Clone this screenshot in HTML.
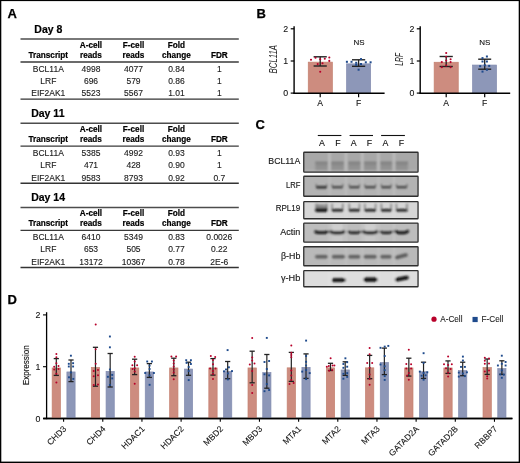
<!DOCTYPE html>
<html><head><meta charset="utf-8"><style>
html,body{margin:0;padding:0;background:#fff;}
svg{display:block;font-family:"Liberation Sans", sans-serif;will-change:transform;}
</style></head><body>
<svg width="520" height="463" viewBox="0 0 520 463">
<rect width="520" height="463" fill="#fff"/>
<text x="7.6" y="18.1" font-size="13" font-weight="bold" text-anchor="start" fill="#000"  stroke="#000" stroke-width="0.25">A</text>
<text x="256.4" y="17.9" font-size="13" font-weight="bold" text-anchor="start" fill="#000"  stroke="#000" stroke-width="0.25">B</text>
<text x="255.6" y="128.8" font-size="13" font-weight="bold" text-anchor="start" fill="#000"  stroke="#000" stroke-width="0.25">C</text>
<text x="7.4" y="304.2" font-size="13" font-weight="bold" text-anchor="start" fill="#000"  stroke="#000" stroke-width="0.25">D</text>
<text x="34.3" y="32.7" font-size="10.5" font-weight="bold" text-anchor="start" fill="#000"  stroke="#000" stroke-width="0.2">Day 8</text>
<line x1="20.5" y1="39.1" x2="238.8" y2="39.1" stroke="#4d4d4d" stroke-width="1.5"/>
<line x1="20.5" y1="62.0" x2="238.8" y2="62.0" stroke="#3a3a3a" stroke-width="1.3"/>
<line x1="20.5" y1="99.1" x2="238.8" y2="99.1" stroke="#333" stroke-width="1.4"/>
<text x="91.0" y="47.7" font-size="8.2" font-weight="bold" text-anchor="middle" fill="#000"  stroke="#000" stroke-width="0.2">A-cell</text>
<text x="133.5" y="47.7" font-size="8.2" font-weight="bold" text-anchor="middle" fill="#000"  stroke="#000" stroke-width="0.2">F-cell</text>
<text x="176.4" y="47.7" font-size="8.2" font-weight="bold" text-anchor="middle" fill="#000"  stroke="#000" stroke-width="0.2">Fold</text>
<text x="48.3" y="58.0" font-size="8.2" font-weight="bold" text-anchor="middle" fill="#000"  stroke="#000" stroke-width="0.2">Transcript</text>
<text x="91.0" y="58.0" font-size="8.2" font-weight="bold" text-anchor="middle" fill="#000"  stroke="#000" stroke-width="0.2">reads</text>
<text x="133.5" y="58.0" font-size="8.2" font-weight="bold" text-anchor="middle" fill="#000"  stroke="#000" stroke-width="0.2">reads</text>
<text x="176.4" y="58.0" font-size="8.2" font-weight="bold" text-anchor="middle" fill="#000"  stroke="#000" stroke-width="0.2">change</text>
<text x="219.3" y="58.0" font-size="8.2" font-weight="bold" text-anchor="middle" fill="#000"  stroke="#000" stroke-width="0.2">FDR</text>
<text transform="translate(48.3,71.5) scale(1.0,1.0)" font-size="8.5" font-weight="normal" text-anchor="middle" fill="#1a1a1a" stroke="#1a1a1a" stroke-width="0.12">BCL11A</text>
<text transform="translate(91.0,71.5) scale(1.0,1.0)" font-size="8.5" font-weight="normal" text-anchor="middle" fill="#1a1a1a" stroke="#1a1a1a" stroke-width="0.12">4998</text>
<text transform="translate(133.5,71.5) scale(1.0,1.0)" font-size="8.5" font-weight="normal" text-anchor="middle" fill="#1a1a1a" stroke="#1a1a1a" stroke-width="0.12">4077</text>
<text transform="translate(176.4,71.5) scale(1.0,1.0)" font-size="8.5" font-weight="normal" text-anchor="middle" fill="#1a1a1a" stroke="#1a1a1a" stroke-width="0.12">0.84</text>
<text transform="translate(219.3,71.5) scale(1.0,1.0)" font-size="8.5" font-weight="normal" text-anchor="middle" fill="#1a1a1a" stroke="#1a1a1a" stroke-width="0.12">1</text>
<text transform="translate(48.3,84.0) scale(1.0,1.0)" font-size="8.5" font-weight="normal" text-anchor="middle" fill="#1a1a1a" stroke="#1a1a1a" stroke-width="0.12">LRF</text>
<text transform="translate(91.0,84.0) scale(1.0,1.0)" font-size="8.5" font-weight="normal" text-anchor="middle" fill="#1a1a1a" stroke="#1a1a1a" stroke-width="0.12">696</text>
<text transform="translate(133.5,84.0) scale(1.0,1.0)" font-size="8.5" font-weight="normal" text-anchor="middle" fill="#1a1a1a" stroke="#1a1a1a" stroke-width="0.12">579</text>
<text transform="translate(176.4,84.0) scale(1.0,1.0)" font-size="8.5" font-weight="normal" text-anchor="middle" fill="#1a1a1a" stroke="#1a1a1a" stroke-width="0.12">0.86</text>
<text transform="translate(219.3,84.0) scale(1.0,1.0)" font-size="8.5" font-weight="normal" text-anchor="middle" fill="#1a1a1a" stroke="#1a1a1a" stroke-width="0.12">1</text>
<text transform="translate(48.3,96.4) scale(1.0,1.0)" font-size="8.5" font-weight="normal" text-anchor="middle" fill="#1a1a1a" stroke="#1a1a1a" stroke-width="0.12">EIF2AK1</text>
<text transform="translate(91.0,96.4) scale(1.0,1.0)" font-size="8.5" font-weight="normal" text-anchor="middle" fill="#1a1a1a" stroke="#1a1a1a" stroke-width="0.12">5523</text>
<text transform="translate(133.5,96.4) scale(1.0,1.0)" font-size="8.5" font-weight="normal" text-anchor="middle" fill="#1a1a1a" stroke="#1a1a1a" stroke-width="0.12">5567</text>
<text transform="translate(176.4,96.4) scale(1.0,1.0)" font-size="8.5" font-weight="normal" text-anchor="middle" fill="#1a1a1a" stroke="#1a1a1a" stroke-width="0.12">1.01</text>
<text transform="translate(219.3,96.4) scale(1.0,1.0)" font-size="8.5" font-weight="normal" text-anchor="middle" fill="#1a1a1a" stroke="#1a1a1a" stroke-width="0.12">1</text>
<text x="31.2" y="116.9" font-size="10.5" font-weight="bold" text-anchor="start" fill="#000"  stroke="#000" stroke-width="0.2">Day 11</text>
<line x1="20.5" y1="123.30000000000001" x2="238.8" y2="123.30000000000001" stroke="#4d4d4d" stroke-width="1.5"/>
<line x1="20.5" y1="146.2" x2="238.8" y2="146.2" stroke="#3a3a3a" stroke-width="1.3"/>
<line x1="20.5" y1="183.3" x2="238.8" y2="183.3" stroke="#333" stroke-width="1.4"/>
<text x="91.0" y="131.9" font-size="8.2" font-weight="bold" text-anchor="middle" fill="#000"  stroke="#000" stroke-width="0.2">A-cell</text>
<text x="133.5" y="131.9" font-size="8.2" font-weight="bold" text-anchor="middle" fill="#000"  stroke="#000" stroke-width="0.2">F-cell</text>
<text x="176.4" y="131.9" font-size="8.2" font-weight="bold" text-anchor="middle" fill="#000"  stroke="#000" stroke-width="0.2">Fold</text>
<text x="48.3" y="142.2" font-size="8.2" font-weight="bold" text-anchor="middle" fill="#000"  stroke="#000" stroke-width="0.2">Transcript</text>
<text x="91.0" y="142.2" font-size="8.2" font-weight="bold" text-anchor="middle" fill="#000"  stroke="#000" stroke-width="0.2">reads</text>
<text x="133.5" y="142.2" font-size="8.2" font-weight="bold" text-anchor="middle" fill="#000"  stroke="#000" stroke-width="0.2">reads</text>
<text x="176.4" y="142.2" font-size="8.2" font-weight="bold" text-anchor="middle" fill="#000"  stroke="#000" stroke-width="0.2">change</text>
<text x="219.3" y="142.2" font-size="8.2" font-weight="bold" text-anchor="middle" fill="#000"  stroke="#000" stroke-width="0.2">FDR</text>
<text transform="translate(48.3,155.7) scale(1.0,1.0)" font-size="8.5" font-weight="normal" text-anchor="middle" fill="#1a1a1a" stroke="#1a1a1a" stroke-width="0.12">BCL11A</text>
<text transform="translate(91.0,155.7) scale(1.0,1.0)" font-size="8.5" font-weight="normal" text-anchor="middle" fill="#1a1a1a" stroke="#1a1a1a" stroke-width="0.12">5385</text>
<text transform="translate(133.5,155.7) scale(1.0,1.0)" font-size="8.5" font-weight="normal" text-anchor="middle" fill="#1a1a1a" stroke="#1a1a1a" stroke-width="0.12">4992</text>
<text transform="translate(176.4,155.7) scale(1.0,1.0)" font-size="8.5" font-weight="normal" text-anchor="middle" fill="#1a1a1a" stroke="#1a1a1a" stroke-width="0.12">0.93</text>
<text transform="translate(219.3,155.7) scale(1.0,1.0)" font-size="8.5" font-weight="normal" text-anchor="middle" fill="#1a1a1a" stroke="#1a1a1a" stroke-width="0.12">1</text>
<text transform="translate(48.3,168.2) scale(1.0,1.0)" font-size="8.5" font-weight="normal" text-anchor="middle" fill="#1a1a1a" stroke="#1a1a1a" stroke-width="0.12">LRF</text>
<text transform="translate(91.0,168.2) scale(1.0,1.0)" font-size="8.5" font-weight="normal" text-anchor="middle" fill="#1a1a1a" stroke="#1a1a1a" stroke-width="0.12">471</text>
<text transform="translate(133.5,168.2) scale(1.0,1.0)" font-size="8.5" font-weight="normal" text-anchor="middle" fill="#1a1a1a" stroke="#1a1a1a" stroke-width="0.12">428</text>
<text transform="translate(176.4,168.2) scale(1.0,1.0)" font-size="8.5" font-weight="normal" text-anchor="middle" fill="#1a1a1a" stroke="#1a1a1a" stroke-width="0.12">0.90</text>
<text transform="translate(219.3,168.2) scale(1.0,1.0)" font-size="8.5" font-weight="normal" text-anchor="middle" fill="#1a1a1a" stroke="#1a1a1a" stroke-width="0.12">1</text>
<text transform="translate(48.3,180.60000000000002) scale(1.0,1.0)" font-size="8.5" font-weight="normal" text-anchor="middle" fill="#1a1a1a" stroke="#1a1a1a" stroke-width="0.12">EIF2AK1</text>
<text transform="translate(91.0,180.60000000000002) scale(1.0,1.0)" font-size="8.5" font-weight="normal" text-anchor="middle" fill="#1a1a1a" stroke="#1a1a1a" stroke-width="0.12">9583</text>
<text transform="translate(133.5,180.60000000000002) scale(1.0,1.0)" font-size="8.5" font-weight="normal" text-anchor="middle" fill="#1a1a1a" stroke="#1a1a1a" stroke-width="0.12">8793</text>
<text transform="translate(176.4,180.60000000000002) scale(1.0,1.0)" font-size="8.5" font-weight="normal" text-anchor="middle" fill="#1a1a1a" stroke="#1a1a1a" stroke-width="0.12">0.92</text>
<text transform="translate(219.3,180.60000000000002) scale(1.0,1.0)" font-size="8.5" font-weight="normal" text-anchor="middle" fill="#1a1a1a" stroke="#1a1a1a" stroke-width="0.12">0.7</text>
<text x="31.2" y="201.10000000000002" font-size="10.5" font-weight="bold" text-anchor="start" fill="#000"  stroke="#000" stroke-width="0.2">Day 14</text>
<line x1="20.5" y1="207.5" x2="238.8" y2="207.5" stroke="#4d4d4d" stroke-width="1.5"/>
<line x1="20.5" y1="230.4" x2="238.8" y2="230.4" stroke="#3a3a3a" stroke-width="1.3"/>
<line x1="20.5" y1="267.5" x2="238.8" y2="267.5" stroke="#333" stroke-width="1.4"/>
<text x="91.0" y="216.10000000000002" font-size="8.2" font-weight="bold" text-anchor="middle" fill="#000"  stroke="#000" stroke-width="0.2">A-cell</text>
<text x="133.5" y="216.10000000000002" font-size="8.2" font-weight="bold" text-anchor="middle" fill="#000"  stroke="#000" stroke-width="0.2">F-cell</text>
<text x="176.4" y="216.10000000000002" font-size="8.2" font-weight="bold" text-anchor="middle" fill="#000"  stroke="#000" stroke-width="0.2">Fold</text>
<text x="48.3" y="226.4" font-size="8.2" font-weight="bold" text-anchor="middle" fill="#000"  stroke="#000" stroke-width="0.2">Transcript</text>
<text x="91.0" y="226.4" font-size="8.2" font-weight="bold" text-anchor="middle" fill="#000"  stroke="#000" stroke-width="0.2">reads</text>
<text x="133.5" y="226.4" font-size="8.2" font-weight="bold" text-anchor="middle" fill="#000"  stroke="#000" stroke-width="0.2">reads</text>
<text x="176.4" y="226.4" font-size="8.2" font-weight="bold" text-anchor="middle" fill="#000"  stroke="#000" stroke-width="0.2">change</text>
<text x="219.3" y="226.4" font-size="8.2" font-weight="bold" text-anchor="middle" fill="#000"  stroke="#000" stroke-width="0.2">FDR</text>
<text transform="translate(48.3,239.9) scale(1.0,1.0)" font-size="8.5" font-weight="normal" text-anchor="middle" fill="#1a1a1a" stroke="#1a1a1a" stroke-width="0.12">BCL11A</text>
<text transform="translate(91.0,239.9) scale(1.0,1.0)" font-size="8.5" font-weight="normal" text-anchor="middle" fill="#1a1a1a" stroke="#1a1a1a" stroke-width="0.12">6410</text>
<text transform="translate(133.5,239.9) scale(1.0,1.0)" font-size="8.5" font-weight="normal" text-anchor="middle" fill="#1a1a1a" stroke="#1a1a1a" stroke-width="0.12">5349</text>
<text transform="translate(176.4,239.9) scale(1.0,1.0)" font-size="8.5" font-weight="normal" text-anchor="middle" fill="#1a1a1a" stroke="#1a1a1a" stroke-width="0.12">0.83</text>
<text transform="translate(219.3,239.9) scale(1.0,1.0)" font-size="8.5" font-weight="normal" text-anchor="middle" fill="#1a1a1a" stroke="#1a1a1a" stroke-width="0.12">0.0026</text>
<text transform="translate(48.3,252.4) scale(1.0,1.0)" font-size="8.5" font-weight="normal" text-anchor="middle" fill="#1a1a1a" stroke="#1a1a1a" stroke-width="0.12">LRF</text>
<text transform="translate(91.0,252.4) scale(1.0,1.0)" font-size="8.5" font-weight="normal" text-anchor="middle" fill="#1a1a1a" stroke="#1a1a1a" stroke-width="0.12">653</text>
<text transform="translate(133.5,252.4) scale(1.0,1.0)" font-size="8.5" font-weight="normal" text-anchor="middle" fill="#1a1a1a" stroke="#1a1a1a" stroke-width="0.12">505</text>
<text transform="translate(176.4,252.4) scale(1.0,1.0)" font-size="8.5" font-weight="normal" text-anchor="middle" fill="#1a1a1a" stroke="#1a1a1a" stroke-width="0.12">0.77</text>
<text transform="translate(219.3,252.4) scale(1.0,1.0)" font-size="8.5" font-weight="normal" text-anchor="middle" fill="#1a1a1a" stroke="#1a1a1a" stroke-width="0.12">0.22</text>
<text transform="translate(48.3,264.8) scale(1.0,1.0)" font-size="8.5" font-weight="normal" text-anchor="middle" fill="#1a1a1a" stroke="#1a1a1a" stroke-width="0.12">EIF2AK1</text>
<text transform="translate(91.0,264.8) scale(1.0,1.0)" font-size="8.5" font-weight="normal" text-anchor="middle" fill="#1a1a1a" stroke="#1a1a1a" stroke-width="0.12">13172</text>
<text transform="translate(133.5,264.8) scale(1.0,1.0)" font-size="8.5" font-weight="normal" text-anchor="middle" fill="#1a1a1a" stroke="#1a1a1a" stroke-width="0.12">10367</text>
<text transform="translate(176.4,264.8) scale(1.0,1.0)" font-size="8.5" font-weight="normal" text-anchor="middle" fill="#1a1a1a" stroke="#1a1a1a" stroke-width="0.12">0.78</text>
<text transform="translate(219.3,264.8) scale(1.0,1.0)" font-size="8.5" font-weight="normal" text-anchor="middle" fill="#1a1a1a" stroke="#1a1a1a" stroke-width="0.12">2E-6</text>
<rect x="308.25" y="62.15" width="24.100000000000012" height="31.15" fill="#cd8c7f" stroke="#c4806f" stroke-width="0.7"/>
<rect x="346.55" y="63.85" width="24.100000000000012" height="29.449999999999996" fill="#8d97b8" stroke="#838cb0" stroke-width="0.7"/>
<line x1="294.1" y1="26.2" x2="294.1" y2="93.8" stroke="#000" stroke-width="1.4"/>
<line x1="293.40000000000003" y1="93.3" x2="384.6" y2="93.3" stroke="#000" stroke-width="1.4"/>
<line x1="290.70000000000005" y1="28.8" x2="294.1" y2="28.8" stroke="#000" stroke-width="1.2"/>
<text x="288.20000000000005" y="31.8" font-size="8.8" font-weight="normal" text-anchor="end" fill="#111"  stroke="#111" stroke-width="0.1">2</text>
<line x1="290.70000000000005" y1="61.0" x2="294.1" y2="61.0" stroke="#000" stroke-width="1.2"/>
<text x="288.20000000000005" y="64.0" font-size="8.8" font-weight="normal" text-anchor="end" fill="#111"  stroke="#111" stroke-width="0.1">1</text>
<line x1="290.70000000000005" y1="93.1" x2="294.1" y2="93.1" stroke="#000" stroke-width="1.2"/>
<text x="288.20000000000005" y="96.1" font-size="8.8" font-weight="normal" text-anchor="end" fill="#111"  stroke="#111" stroke-width="0.1">0</text>
<line x1="320.2" y1="93.3" x2="320.2" y2="97.2" stroke="#000" stroke-width="1.2"/>
<text x="320.2" y="106.4" font-size="8.6" font-weight="normal" text-anchor="middle" fill="#111"  stroke="#111" stroke-width="0.1">A</text>
<line x1="358.6" y1="93.3" x2="358.6" y2="97.2" stroke="#000" stroke-width="1.2"/>
<text x="358.6" y="106.4" font-size="8.6" font-weight="normal" text-anchor="middle" fill="#111"  stroke="#111" stroke-width="0.1">F</text>
<line x1="320.2" y1="56.8" x2="320.2" y2="66.0" stroke="#222" stroke-width="1.3"/>
<line x1="313.59999999999997" y1="56.8" x2="326.8" y2="56.8" stroke="#222" stroke-width="1.4"/>
<line x1="313.59999999999997" y1="66.0" x2="326.8" y2="66.0" stroke="#222" stroke-width="1.4"/>
<line x1="358.6" y1="59.8" x2="358.6" y2="66.3" stroke="#222" stroke-width="1.3"/>
<line x1="352.0" y1="59.8" x2="365.20000000000005" y2="59.8" stroke="#222" stroke-width="1.4"/>
<line x1="352.0" y1="66.3" x2="365.20000000000005" y2="66.3" stroke="#222" stroke-width="1.4"/>
<circle cx="311" cy="59.8" r="1.05" fill="#b8002a"/>
<circle cx="315.5" cy="57.8" r="1.05" fill="#b8002a"/>
<circle cx="320.2" cy="59.2" r="1.05" fill="#b8002a"/>
<circle cx="324.8" cy="58.7" r="1.05" fill="#b8002a"/>
<circle cx="329.3" cy="57.5" r="1.05" fill="#b8002a"/>
<circle cx="329.3" cy="60.9" r="1.05" fill="#b8002a"/>
<circle cx="317.7" cy="64.1" r="1.05" fill="#b8002a"/>
<circle cx="322.5" cy="63.3" r="1.05" fill="#b8002a"/>
<circle cx="320.2" cy="71.8" r="1.05" fill="#b8002a"/>
<rect x="345.9" y="60.8" width="2" height="2" fill="#1e4a8c"/>
<rect x="350.5" y="60.8" width="2" height="2" fill="#1e4a8c"/>
<rect x="355.2" y="61.8" width="2" height="2" fill="#1e4a8c"/>
<rect x="360" y="58.1" width="2" height="2" fill="#1e4a8c"/>
<rect x="360" y="63" width="2" height="2" fill="#1e4a8c"/>
<rect x="364.8" y="61.3" width="2" height="2" fill="#1e4a8c"/>
<rect x="369.6" y="61.3" width="2" height="2" fill="#1e4a8c"/>
<rect x="357.6" y="68.7" width="2" height="2" fill="#1e4a8c"/>
<rect x="355.2" y="63.900000000000006" width="2" height="2" fill="#1e4a8c"/>
<text x="359.0" y="45.3" font-size="8" font-weight="normal" text-anchor="middle" fill="#111"  stroke="#111" stroke-width="0.1">NS</text>
<text transform="translate(277.2,59.2) rotate(-90) scale(0.78,1)" font-size="10" font-style="italic" text-anchor="middle" fill="#222">BCL11A</text>
<rect x="434.15000000000003" y="62.25" width="24.100000000000012" height="31.049999999999997" fill="#cd8c7f" stroke="#c4806f" stroke-width="0.7"/>
<rect x="472.55" y="65.05" width="23.99999999999999" height="28.249999999999993" fill="#8d97b8" stroke="#838cb0" stroke-width="0.7"/>
<line x1="420.2" y1="26.2" x2="420.2" y2="93.8" stroke="#000" stroke-width="1.4"/>
<line x1="419.5" y1="93.3" x2="510.2" y2="93.3" stroke="#000" stroke-width="1.4"/>
<line x1="416.8" y1="28.8" x2="420.2" y2="28.8" stroke="#000" stroke-width="1.2"/>
<text x="414.3" y="31.8" font-size="8.8" font-weight="normal" text-anchor="end" fill="#111"  stroke="#111" stroke-width="0.1">2</text>
<line x1="416.8" y1="61.0" x2="420.2" y2="61.0" stroke="#000" stroke-width="1.2"/>
<text x="414.3" y="64.0" font-size="8.8" font-weight="normal" text-anchor="end" fill="#111"  stroke="#111" stroke-width="0.1">1</text>
<line x1="416.8" y1="93.1" x2="420.2" y2="93.1" stroke="#000" stroke-width="1.2"/>
<text x="414.3" y="96.1" font-size="8.8" font-weight="normal" text-anchor="end" fill="#111"  stroke="#111" stroke-width="0.1">0</text>
<line x1="446.2" y1="93.3" x2="446.2" y2="97.2" stroke="#000" stroke-width="1.2"/>
<text x="446.2" y="106.4" font-size="8.6" font-weight="normal" text-anchor="middle" fill="#111"  stroke="#111" stroke-width="0.1">A</text>
<line x1="484.7" y1="93.3" x2="484.7" y2="97.2" stroke="#000" stroke-width="1.2"/>
<text x="484.7" y="106.4" font-size="8.6" font-weight="normal" text-anchor="middle" fill="#111"  stroke="#111" stroke-width="0.1">F</text>
<line x1="446.2" y1="56.5" x2="446.2" y2="66.5" stroke="#222" stroke-width="1.3"/>
<line x1="439.59999999999997" y1="56.5" x2="452.8" y2="56.5" stroke="#222" stroke-width="1.4"/>
<line x1="439.59999999999997" y1="66.5" x2="452.8" y2="66.5" stroke="#222" stroke-width="1.4"/>
<line x1="484.7" y1="59.2" x2="484.7" y2="69.2" stroke="#222" stroke-width="1.3"/>
<line x1="478.2" y1="59.2" x2="491.2" y2="59.2" stroke="#222" stroke-width="1.4"/>
<line x1="478.2" y1="69.2" x2="491.2" y2="69.2" stroke="#222" stroke-width="1.4"/>
<circle cx="446.2" cy="53" r="1.05" fill="#b8002a"/>
<circle cx="446.2" cy="56.7" r="1.05" fill="#b8002a"/>
<circle cx="441.8" cy="62.1" r="1.05" fill="#b8002a"/>
<circle cx="450.6" cy="59.2" r="1.05" fill="#b8002a"/>
<circle cx="450.6" cy="62.1" r="1.05" fill="#b8002a"/>
<circle cx="441.8" cy="67.2" r="1.05" fill="#b8002a"/>
<circle cx="446.2" cy="65.5" r="1.05" fill="#b8002a"/>
<circle cx="450.6" cy="67.2" r="1.05" fill="#b8002a"/>
<circle cx="446.2" cy="60.5" r="1.05" fill="#b8002a"/>
<rect x="481.5" y="57.1" width="2" height="2" fill="#1e4a8c"/>
<rect x="485.9" y="55.5" width="2" height="2" fill="#1e4a8c"/>
<rect x="481.5" y="60.5" width="2" height="2" fill="#1e4a8c"/>
<rect x="485.9" y="60.5" width="2" height="2" fill="#1e4a8c"/>
<rect x="479.2" y="65.2" width="2" height="2" fill="#1e4a8c"/>
<rect x="483.8" y="64.2" width="2" height="2" fill="#1e4a8c"/>
<rect x="488.2" y="64.9" width="2" height="2" fill="#1e4a8c"/>
<rect x="481.5" y="70.6" width="2" height="2" fill="#1e4a8c"/>
<rect x="485.9" y="68.8" width="2" height="2" fill="#1e4a8c"/>
<text x="484.7" y="45.3" font-size="8" font-weight="normal" text-anchor="middle" fill="#111"  stroke="#111" stroke-width="0.1">NS</text>
<text transform="translate(403.0,59.3) rotate(-90) scale(0.68,1)" font-size="10" font-style="italic" text-anchor="middle" fill="#222">LRF</text>
<line x1="317.8" y1="135.5" x2="341.4" y2="135.5" stroke="#111" stroke-width="1.1"/>
<line x1="349.6" y1="135.5" x2="373.0" y2="135.5" stroke="#111" stroke-width="1.1"/>
<line x1="381.1" y1="135.5" x2="404.9" y2="135.5" stroke="#111" stroke-width="1.1"/>
<text x="322.0" y="145.9" font-size="8.8" font-weight="normal" text-anchor="middle" fill="#111"  stroke="#111" stroke-width="0.12">A</text>
<text x="337.9" y="145.9" font-size="8.8" font-weight="normal" text-anchor="middle" fill="#111"  stroke="#111" stroke-width="0.12">F</text>
<text x="353.6" y="145.9" font-size="8.8" font-weight="normal" text-anchor="middle" fill="#111"  stroke="#111" stroke-width="0.12">A</text>
<text x="369.5" y="145.9" font-size="8.8" font-weight="normal" text-anchor="middle" fill="#111"  stroke="#111" stroke-width="0.12">F</text>
<text x="385.5" y="145.9" font-size="8.8" font-weight="normal" text-anchor="middle" fill="#111"  stroke="#111" stroke-width="0.12">A</text>
<text x="401.5" y="145.9" font-size="8.8" font-weight="normal" text-anchor="middle" fill="#111"  stroke="#111" stroke-width="0.12">F</text>
<defs><filter id="bl" x="-20%" y="-80%" width="140%" height="260%"><feGaussianBlur stdDeviation="0.8"/></filter><filter id="bl2" x="-20%" y="-80%" width="140%" height="260%"><feGaussianBlur stdDeviation="0.9"/></filter></defs>
<text x="300.3" y="164.39999999999998" font-size="8.8" font-weight="normal" text-anchor="end" fill="#1a1a1a"  textLength="32.0" lengthAdjust="spacingAndGlyphs" stroke="#1a1a1a" stroke-width="0.15">BCL11A</text>
<clipPath id="cp0"><rect x="304.0" y="152.5" width="113.80000000000001" height="19.400000000000006" rx="0.6"/></clipPath>
<rect x="303.75" y="152.25" width="114.30000000000001" height="19.900000000000006" rx="0.8" fill="#a8a8a8"/>
<g clip-path="url(#cp0)"><g filter="url(#bl)"><rect x="328.29999999999995" y="151.5" width="2.2" height="21.400000000000006" fill="#b4b4b4"/><rect x="344.9" y="151.5" width="2.2" height="21.400000000000006" fill="#b4b4b4"/><rect x="361.09999999999997" y="151.5" width="2.2" height="21.400000000000006" fill="#b4b4b4"/><rect x="377.29999999999995" y="151.5" width="2.2" height="21.400000000000006" fill="#b4b4b4"/><rect x="392.9" y="151.5" width="2.2" height="21.400000000000006" fill="#b4b4b4"/><rect x="315.3" y="161.7" width="12.599999999999966" height="9.5" fill="#959595"/><rect x="315.3" y="161.8" width="12.599999999999966" height="1.5" fill="#767676"/><rect x="315.8" y="164.0" width="11.599999999999966" height="2.5" fill="#8b8b8b"/><rect x="315.8" y="168.3" width="11.599999999999966" height="2.2" fill="#8e8e8e"/><rect x="330.8" y="161.7" width="13.099999999999966" height="9.5" fill="#959595"/><rect x="330.8" y="161.8" width="13.099999999999966" height="1.5" fill="#767676"/><rect x="331.3" y="164.0" width="12.099999999999966" height="2.5" fill="#8b8b8b"/><rect x="331.3" y="168.3" width="12.099999999999966" height="2.2" fill="#8e8e8e"/><rect x="348.1" y="161.7" width="12.599999999999966" height="9.5" fill="#959595"/><rect x="348.1" y="161.8" width="12.599999999999966" height="1.5" fill="#767676"/><rect x="348.6" y="164.0" width="11.599999999999966" height="2.5" fill="#8b8b8b"/><rect x="348.6" y="168.3" width="11.599999999999966" height="2.2" fill="#8e8e8e"/><rect x="363.6" y="161.7" width="13.199999999999989" height="9.5" fill="#959595"/><rect x="363.6" y="161.8" width="13.199999999999989" height="1.5" fill="#767676"/><rect x="364.1" y="164.0" width="12.199999999999989" height="2.5" fill="#8b8b8b"/><rect x="364.1" y="168.3" width="12.199999999999989" height="2.2" fill="#8e8e8e"/><rect x="380.2" y="161.7" width="12.199999999999989" height="9.5" fill="#959595"/><rect x="380.2" y="161.8" width="12.199999999999989" height="1.5" fill="#767676"/><rect x="380.7" y="164.0" width="11.199999999999989" height="2.5" fill="#8b8b8b"/><rect x="380.7" y="168.3" width="11.199999999999989" height="2.2" fill="#8e8e8e"/><rect x="395.2" y="161.7" width="12.800000000000011" height="9.5" fill="#959595"/><rect x="395.2" y="161.8" width="12.800000000000011" height="1.5" fill="#767676"/><rect x="395.7" y="164.0" width="11.800000000000011" height="2.5" fill="#8b8b8b"/><rect x="395.7" y="168.3" width="11.800000000000011" height="2.2" fill="#8e8e8e"/><rect x="328.09999999999997" y="151.5" width="2.6" height="21.400000000000006" fill="#bcbcbc"/><rect x="344.7" y="151.5" width="2.6" height="21.400000000000006" fill="#bcbcbc"/><rect x="360.9" y="151.5" width="2.6" height="21.400000000000006" fill="#bcbcbc"/><rect x="377.09999999999997" y="151.5" width="2.6" height="21.400000000000006" fill="#bcbcbc"/><rect x="392.7" y="151.5" width="2.6" height="21.400000000000006" fill="#bcbcbc"/><rect x="303.0" y="170.3" width="115.80000000000001" height="1.1" fill="#b8b8b8"/></g></g>
<rect x="303.75" y="152.25" width="114.30000000000001" height="19.900000000000006" rx="0.6" fill="none" stroke="#2e2e2e" stroke-width="1.3"/>
<text x="300.3" y="188.05" font-size="8.8" font-weight="normal" text-anchor="end" fill="#1a1a1a"  textLength="14.4" lengthAdjust="spacingAndGlyphs" stroke="#1a1a1a" stroke-width="0.15">LRF</text>
<clipPath id="cp1"><rect x="304.0" y="176.5" width="113.80000000000001" height="19.5" rx="0.6"/></clipPath>
<rect x="303.75" y="176.25" width="114.30000000000001" height="20.0" rx="0.8" fill="#b3b3b3"/>
<g clip-path="url(#cp1)"><g filter="url(#bl)"><rect x="328.29999999999995" y="175.5" width="2.2" height="21.5" fill="#bcbcbc"/><rect x="344.9" y="175.5" width="2.2" height="21.5" fill="#bcbcbc"/><rect x="361.09999999999997" y="175.5" width="2.2" height="21.5" fill="#bcbcbc"/><rect x="377.29999999999995" y="175.5" width="2.2" height="21.5" fill="#bcbcbc"/><rect x="392.9" y="175.5" width="2.2" height="21.5" fill="#bcbcbc"/><path d="M316.3,184.0 C316.3,187.2 317.0,187.2 318.8,187.2 L324.4,187.2 C326.2,187.2 326.9,187.2 326.9,184.0" fill="none" stroke="#6a6a6a" stroke-width="1.4"/><line x1="317.2" y1="187.2" x2="326.0" y2="187.2" stroke="#2a2a2a" stroke-width="2.4" stroke-linecap="round"/><path d="M331.8,184.0 C331.8,187.2 332.5,187.2 334.3,187.2 L340.4,187.2 C342.2,187.2 342.9,187.2 342.9,184.0" fill="none" stroke="#6a6a6a" stroke-width="1.4"/><line x1="332.7" y1="187.2" x2="342.0" y2="187.2" stroke="#383838" stroke-width="1.9" stroke-linecap="round"/><path d="M349.1,184.0 C349.1,187.2 349.8,187.2 351.6,187.2 L357.2,187.2 C359.0,187.2 359.7,187.2 359.7,184.0" fill="none" stroke="#6a6a6a" stroke-width="1.4"/><line x1="350.0" y1="187.2" x2="358.8" y2="187.2" stroke="#383838" stroke-width="1.9" stroke-linecap="round"/><path d="M364.6,184.0 C364.6,187.2 365.3,187.2 367.1,187.2 L373.3,187.2 C375.1,187.2 375.8,187.2 375.8,184.0" fill="none" stroke="#6a6a6a" stroke-width="1.4"/><line x1="365.5" y1="187.2" x2="374.90000000000003" y2="187.2" stroke="#383838" stroke-width="1.9" stroke-linecap="round"/><path d="M381.2,184.0 C381.2,187.2 381.9,187.2 383.7,187.2 L388.9,187.2 C390.7,187.2 391.4,187.2 391.4,184.0" fill="none" stroke="#6a6a6a" stroke-width="1.4"/><line x1="382.09999999999997" y1="187.2" x2="390.5" y2="187.2" stroke="#383838" stroke-width="1.9" stroke-linecap="round"/><path d="M396.2,184.0 C396.2,187.2 396.9,187.2 398.7,187.2 L404.5,187.2 C406.3,187.2 407.0,187.2 407.0,184.0" fill="none" stroke="#6a6a6a" stroke-width="1.4"/><line x1="397.09999999999997" y1="187.2" x2="406.1" y2="187.2" stroke="#383838" stroke-width="1.9" stroke-linecap="round"/></g></g>
<rect x="303.75" y="176.25" width="114.30000000000001" height="20.0" rx="0.6" fill="none" stroke="#2e2e2e" stroke-width="1.3"/>
<text x="300.3" y="211.25" font-size="8.8" font-weight="normal" text-anchor="end" fill="#1a1a1a"  textLength="24.6" lengthAdjust="spacingAndGlyphs" stroke="#1a1a1a" stroke-width="0.15">RPL19</text>
<clipPath id="cp2"><rect x="304.0" y="201.8" width="113.80000000000001" height="16.69999999999999" rx="0.6"/></clipPath>
<rect x="303.75" y="201.55" width="114.30000000000001" height="17.19999999999999" rx="0.8" fill="#d6d6d6"/>
<g clip-path="url(#cp2)"><g filter="url(#bl)"><rect x="328.29999999999995" y="200.8" width="2.2" height="18.69999999999999" fill="#dadada"/><rect x="344.9" y="200.8" width="2.2" height="18.69999999999999" fill="#dadada"/><rect x="361.09999999999997" y="200.8" width="2.2" height="18.69999999999999" fill="#dadada"/><rect x="377.29999999999995" y="200.8" width="2.2" height="18.69999999999999" fill="#dadada"/><rect x="392.9" y="200.8" width="2.2" height="18.69999999999999" fill="#dadada"/><path d="M315.7,204.0 L327.5,204.0 L327.5,210.3 L315.7,210.3 Z" fill="#9d9d9d"/><path d="M316.7,205.3 Q321.6,204.3 326.5,207.3 L326.5,208.8 L316.7,208.8 Z" fill="#8a8a8a"/><path d="M316.3,203.60000000000002 C316.3,210.20000000000002 316.9,210.20000000000002 318.7,210.20000000000002 L324.5,210.20000000000002 C326.3,210.20000000000002 326.9,210.20000000000002 326.9,203.60000000000002" fill="none" stroke="#7a7a7a" stroke-width="1.5"/><line x1="316.9" y1="210.20000000000002" x2="326.3" y2="210.20000000000002" stroke="#101010" stroke-width="3.4" stroke-linecap="round"/><line x1="316.7" y1="209.20000000000002" x2="326.5" y2="209.20000000000002" stroke="#1a1a1a" stroke-width="2.6" stroke-linecap="round"/><path d="M331.8,203.60000000000002 C331.8,210.20000000000002 332.4,210.20000000000002 334.2,210.20000000000002 L340.5,210.20000000000002 C342.3,210.20000000000002 342.9,210.20000000000002 342.9,203.60000000000002" fill="none" stroke="#7a7a7a" stroke-width="1.5"/><line x1="332.4" y1="210.20000000000002" x2="342.3" y2="210.20000000000002" stroke="#101010" stroke-width="2.6" stroke-linecap="round"/><path d="M349.1,203.60000000000002 C349.1,210.20000000000002 349.7,210.20000000000002 351.5,210.20000000000002 L357.3,210.20000000000002 C359.1,210.20000000000002 359.7,210.20000000000002 359.7,203.60000000000002" fill="none" stroke="#7a7a7a" stroke-width="1.5"/><line x1="349.7" y1="210.20000000000002" x2="359.1" y2="210.20000000000002" stroke="#101010" stroke-width="2.6" stroke-linecap="round"/><path d="M364.6,203.60000000000002 C364.6,210.20000000000002 365.2,210.20000000000002 367.0,210.20000000000002 L373.40000000000003,210.20000000000002 C375.20000000000005,210.20000000000002 375.8,210.20000000000002 375.8,203.60000000000002" fill="none" stroke="#7a7a7a" stroke-width="1.5"/><line x1="365.2" y1="210.20000000000002" x2="375.20000000000005" y2="210.20000000000002" stroke="#101010" stroke-width="2.6" stroke-linecap="round"/><path d="M381.2,203.60000000000002 C381.2,210.20000000000002 381.79999999999995,210.20000000000002 383.59999999999997,210.20000000000002 L389.0,210.20000000000002 C390.8,210.20000000000002 391.4,210.20000000000002 391.4,203.60000000000002" fill="none" stroke="#7a7a7a" stroke-width="1.5"/><line x1="381.79999999999995" y1="210.20000000000002" x2="390.8" y2="210.20000000000002" stroke="#101010" stroke-width="2.6" stroke-linecap="round"/><path d="M396.2,203.60000000000002 C396.2,210.20000000000002 396.79999999999995,210.20000000000002 398.59999999999997,210.20000000000002 L404.6,210.20000000000002 C406.40000000000003,210.20000000000002 407.0,210.20000000000002 407.0,203.60000000000002" fill="none" stroke="#7a7a7a" stroke-width="1.5"/><line x1="396.79999999999995" y1="210.20000000000002" x2="406.40000000000003" y2="210.20000000000002" stroke="#101010" stroke-width="2.6" stroke-linecap="round"/></g></g>
<rect x="303.75" y="201.55" width="114.30000000000001" height="17.19999999999999" rx="0.6" fill="none" stroke="#2e2e2e" stroke-width="1.3"/>
<text x="300.3" y="234.60000000000002" font-size="8.8" font-weight="normal" text-anchor="end" fill="#1a1a1a"  textLength="20.0" lengthAdjust="spacingAndGlyphs" stroke="#1a1a1a" stroke-width="0.15">Actin</text>
<clipPath id="cp3"><rect x="304.0" y="223.3" width="113.80000000000001" height="18.599999999999994" rx="0.6"/></clipPath>
<rect x="303.75" y="223.05" width="114.30000000000001" height="19.099999999999994" rx="0.8" fill="#bdbdbd"/>
<g clip-path="url(#cp3)"><g filter="url(#bl)"><rect x="328.29999999999995" y="222.3" width="2.2" height="20.599999999999994" fill="#c5c5c5"/><rect x="344.9" y="222.3" width="2.2" height="20.599999999999994" fill="#c5c5c5"/><rect x="361.09999999999997" y="222.3" width="2.2" height="20.599999999999994" fill="#c5c5c5"/><rect x="377.29999999999995" y="222.3" width="2.2" height="20.599999999999994" fill="#c5c5c5"/><rect x="392.9" y="222.3" width="2.2" height="20.599999999999994" fill="#c5c5c5"/><path d="M315.6,231.8 C316.40000000000003,232.70000000000002 317.20000000000005,232.70000000000002 319.1,232.70000000000002 L324.09999999999997,232.70000000000002 C325.99999999999994,232.70000000000002 326.79999999999995,232.70000000000002 327.59999999999997,231.8" fill="none" stroke="#101010" stroke-width="2.8" stroke-linecap="round" opacity="1"/><rect x="331.3" y="222.3" width="12.099999999999966" height="20.599999999999994" fill="#c8c8c8"/><rect x="332.3" y="224.3" width="10.099999999999966" height="6" fill="#cfcfcf"/><path d="M331.1,231.8 C331.90000000000003,232.70000000000002 332.70000000000005,232.70000000000002 334.6,232.70000000000002 L340.09999999999997,232.70000000000002 C341.99999999999994,232.70000000000002 342.79999999999995,232.70000000000002 343.59999999999997,231.8" fill="none" stroke="#101010" stroke-width="3.5" stroke-linecap="round" opacity="1"/><path d="M348.40000000000003,231.8 C349.20000000000005,232.70000000000002 350.00000000000006,232.70000000000002 351.90000000000003,232.70000000000002 L356.9,232.70000000000002 C358.79999999999995,232.70000000000002 359.59999999999997,232.70000000000002 360.4,231.8" fill="none" stroke="#101010" stroke-width="2.4" stroke-linecap="round" opacity="1"/><rect x="364.1" y="222.3" width="12.199999999999989" height="20.599999999999994" fill="#c8c8c8"/><rect x="365.1" y="224.3" width="10.199999999999989" height="6" fill="#cfcfcf"/><path d="M363.90000000000003,231.8 C364.70000000000005,232.70000000000002 365.50000000000006,232.70000000000002 367.40000000000003,232.70000000000002 L373.0,232.70000000000002 C374.9,232.70000000000002 375.7,232.70000000000002 376.5,231.8" fill="none" stroke="#101010" stroke-width="3.5" stroke-linecap="round" opacity="1"/><path d="M380.5,231.8 C381.3,232.70000000000002 382.1,232.70000000000002 384.0,232.70000000000002 L388.59999999999997,232.70000000000002 C390.49999999999994,232.70000000000002 391.29999999999995,232.70000000000002 392.09999999999997,231.8" fill="none" stroke="#101010" stroke-width="2.4" stroke-linecap="round" opacity="1"/><path d="M395.5,231.3 C396.3,232.70000000000002 397.1,232.70000000000002 399.0,232.70000000000002 L404.2,232.70000000000002 C406.09999999999997,232.70000000000002 406.9,232.70000000000002 407.7,231.3" fill="none" stroke="#101010" stroke-width="3.0" stroke-linecap="round" opacity="1"/></g></g>
<rect x="303.75" y="223.05" width="114.30000000000001" height="19.099999999999994" rx="0.6" fill="none" stroke="#2e2e2e" stroke-width="1.3"/>
<text x="300.3" y="258.85" font-size="8.8" font-weight="normal" text-anchor="end" fill="#1a1a1a"  textLength="19.3" lengthAdjust="spacingAndGlyphs" stroke="#1a1a1a" stroke-width="0.15">&#946;-Hb</text>
<clipPath id="cp4"><rect x="304.0" y="247.0" width="113.80000000000001" height="18.5" rx="0.6"/></clipPath>
<rect x="303.75" y="246.75" width="114.30000000000001" height="19.0" rx="0.8" fill="#b9b9b9"/>
<g clip-path="url(#cp4)"><g filter="url(#bl2)"><rect x="328.29999999999995" y="246.0" width="2.2" height="20.5" fill="#bfbfbf"/><rect x="344.9" y="246.0" width="2.2" height="20.5" fill="#bfbfbf"/><rect x="361.09999999999997" y="246.0" width="2.2" height="20.5" fill="#bfbfbf"/><rect x="377.29999999999995" y="246.0" width="2.2" height="20.5" fill="#bfbfbf"/><rect x="392.9" y="246.0" width="2.2" height="20.5" fill="#bfbfbf"/><line x1="316.8" y1="256.7" x2="326.2" y2="256.7" stroke="#5e5e5e" stroke-width="3.6" stroke-linecap="round"/><line x1="333.40000000000003" y1="256.7" x2="343.59999999999997" y2="256.7" stroke="#5e5e5e" stroke-width="3.6" stroke-linecap="round"/><line x1="349.8" y1="256.7" x2="358.8" y2="256.7" stroke="#5e5e5e" stroke-width="3.6" stroke-linecap="round"/><line x1="365.2" y1="256.7" x2="375.2" y2="256.7" stroke="#5e5e5e" stroke-width="3.6" stroke-linecap="round"/><line x1="381.8" y1="256.7" x2="390.0" y2="256.7" stroke="#5e5e5e" stroke-width="3.6" stroke-linecap="round"/><line x1="396.6" y1="257.5" x2="406.0" y2="255.1" stroke="#5a5a5a" stroke-width="3.6" stroke-linecap="round"/></g></g>
<rect x="303.75" y="246.75" width="114.30000000000001" height="19.0" rx="0.6" fill="none" stroke="#2e2e2e" stroke-width="1.3"/>
<text x="300.3" y="281.25" font-size="8.8" font-weight="normal" text-anchor="end" fill="#1a1a1a"  textLength="19.3" lengthAdjust="spacingAndGlyphs" stroke="#1a1a1a" stroke-width="0.15">&#947;-Hb</text>
<clipPath id="cp5"><rect x="304.0" y="270.8" width="113.80000000000001" height="15.699999999999989" rx="0.6"/></clipPath>
<rect x="303.75" y="270.55" width="114.30000000000001" height="16.19999999999999" rx="0.8" fill="#dddddd"/>
<g clip-path="url(#cp5)"><g filter="url(#bl)"><rect x="328.29999999999995" y="269.8" width="2.2" height="17.69999999999999" fill="#e0e0e0"/><rect x="344.9" y="269.8" width="2.2" height="17.69999999999999" fill="#e0e0e0"/><rect x="361.09999999999997" y="269.8" width="2.2" height="17.69999999999999" fill="#e0e0e0"/><rect x="377.29999999999995" y="269.8" width="2.2" height="17.69999999999999" fill="#e0e0e0"/><rect x="392.9" y="269.8" width="2.2" height="17.69999999999999" fill="#e0e0e0"/><line x1="333.7" y1="280.2" x2="344.1" y2="280.1" stroke="#080808" stroke-width="3.8" stroke-linecap="round"/><line x1="365.40000000000003" y1="279.7" x2="375.7" y2="279.7" stroke="#080808" stroke-width="4.2" stroke-linecap="round"/><line x1="396.7" y1="279.6" x2="406.90000000000003" y2="277.6" stroke="#080808" stroke-width="3.8" stroke-linecap="round"/></g></g>
<rect x="303.75" y="270.55" width="114.30000000000001" height="16.19999999999999" rx="0.6" fill="none" stroke="#2e2e2e" stroke-width="1.3"/>
<line x1="46.6" y1="312.2" x2="46.6" y2="419.2" stroke="#000" stroke-width="1.3"/>
<line x1="43.2" y1="418.5" x2="512.4" y2="418.5" stroke="#000" stroke-width="1.3"/>
<line x1="43.0" y1="314.9" x2="46.6" y2="314.9" stroke="#000" stroke-width="1.1"/>
<text x="40.3" y="318.09999999999997" font-size="8.8" font-weight="normal" text-anchor="end" fill="#111"  stroke="#111" stroke-width="0.1">2</text>
<line x1="43.0" y1="366.7" x2="46.6" y2="366.7" stroke="#000" stroke-width="1.1"/>
<text x="40.3" y="369.9" font-size="8.8" font-weight="normal" text-anchor="end" fill="#111"  stroke="#111" stroke-width="0.1">1</text>
<line x1="43.0" y1="418.5" x2="46.6" y2="418.5" stroke="#000" stroke-width="1.1"/>
<text x="40.3" y="421.7" font-size="8.8" font-weight="normal" text-anchor="end" fill="#111"  stroke="#111" stroke-width="0.1">0</text>
<text transform="translate(29.0,365.3) rotate(-90) scale(0.86,1)" font-size="9.4" text-anchor="middle" fill="#111" stroke="#111" stroke-width="0.12">Expression</text>
<rect x="52.150000000000006" y="367.95000000000005" width="8.3" height="50.549999999999976" fill="#cd8c7f" stroke="#c4806f" stroke-width="0.7"/>
<rect x="66.89999999999999" y="371.95000000000005" width="8.200000000000006" height="46.549999999999976" fill="#8d97b8" stroke="#838cb0" stroke-width="0.7"/>
<line x1="56.300000000000004" y1="358.6" x2="56.300000000000004" y2="375.4" stroke="#222" stroke-width="1.2"/>
<line x1="53.7" y1="358.6" x2="58.900000000000006" y2="358.6" stroke="#222" stroke-width="1.3"/>
<line x1="53.7" y1="375.4" x2="58.900000000000006" y2="375.4" stroke="#222" stroke-width="1.3"/>
<line x1="71.0" y1="360.0" x2="71.0" y2="381.6" stroke="#222" stroke-width="1.2"/>
<line x1="68.4" y1="360.0" x2="73.6" y2="360.0" stroke="#222" stroke-width="1.3"/>
<line x1="68.4" y1="381.6" x2="73.6" y2="381.6" stroke="#222" stroke-width="1.3"/>
<circle cx="56.4" cy="354.1" r="1.0" fill="#b8002a"/>
<circle cx="56.4" cy="357.3" r="1.0" fill="#b8002a"/>
<circle cx="56.4" cy="363.2" r="1.0" fill="#b8002a"/>
<circle cx="54.2" cy="366.8" r="1.0" fill="#b8002a"/>
<circle cx="58.5" cy="366" r="1.0" fill="#b8002a"/>
<circle cx="54.2" cy="369.5" r="1.0" fill="#b8002a"/>
<circle cx="58.5" cy="369" r="1.0" fill="#b8002a"/>
<circle cx="56.4" cy="373.7" r="1.0" fill="#b8002a"/>
<circle cx="56.4" cy="382.4" r="1.0" fill="#b8002a"/>
<rect x="69.95" y="354.75" width="1.9" height="1.9" fill="#1e4a8c"/>
<rect x="67.85" y="362.85" width="1.9" height="1.9" fill="#1e4a8c"/>
<rect x="72.14999999999999" y="362.25" width="1.9" height="1.9" fill="#1e4a8c"/>
<rect x="67.85" y="365.55" width="1.9" height="1.9" fill="#1e4a8c"/>
<rect x="72.14999999999999" y="365.55" width="1.9" height="1.9" fill="#1e4a8c"/>
<rect x="69.95" y="371.45" width="1.9" height="1.9" fill="#1e4a8c"/>
<rect x="68.05" y="376.35" width="1.9" height="1.9" fill="#1e4a8c"/>
<rect x="72.35" y="377.95" width="1.9" height="1.9" fill="#1e4a8c"/>
<line x1="63.6" y1="418.5" x2="63.6" y2="421.8" stroke="#000" stroke-width="1.1"/>
<text transform="translate(66.9,429.5) rotate(-45)" font-size="8.5" text-anchor="end" fill="#111" stroke="#111" stroke-width="0.1">CHD3</text>
<rect x="91.32000000000001" y="367.45000000000005" width="8.3" height="51.049999999999976" fill="#cd8c7f" stroke="#c4806f" stroke-width="0.7"/>
<rect x="106.07000000000001" y="371.35" width="8.200000000000006" height="47.15" fill="#8d97b8" stroke="#838cb0" stroke-width="0.7"/>
<line x1="95.47000000000001" y1="347.3" x2="95.47000000000001" y2="386.2" stroke="#222" stroke-width="1.2"/>
<line x1="92.87000000000002" y1="347.3" x2="98.07000000000001" y2="347.3" stroke="#222" stroke-width="1.3"/>
<line x1="92.87000000000002" y1="386.2" x2="98.07000000000001" y2="386.2" stroke="#222" stroke-width="1.3"/>
<line x1="110.17000000000002" y1="353.5" x2="110.17000000000002" y2="387.0" stroke="#222" stroke-width="1.2"/>
<line x1="107.57000000000002" y1="353.5" x2="112.77000000000001" y2="353.5" stroke="#222" stroke-width="1.3"/>
<line x1="107.57000000000002" y1="387.0" x2="112.77000000000001" y2="387.0" stroke="#222" stroke-width="1.3"/>
<circle cx="95.7" cy="324.4" r="1.0" fill="#b8002a"/>
<circle cx="95.7" cy="349.3" r="1.0" fill="#b8002a"/>
<circle cx="95.7" cy="363.8" r="1.0" fill="#b8002a"/>
<circle cx="93.7" cy="371" r="1.0" fill="#b8002a"/>
<circle cx="98" cy="370" r="1.0" fill="#b8002a"/>
<circle cx="93.7" cy="376.3" r="1.0" fill="#b8002a"/>
<circle cx="98" cy="375.3" r="1.0" fill="#b8002a"/>
<circle cx="93.7" cy="385" r="1.0" fill="#b8002a"/>
<circle cx="98" cy="384.6" r="1.0" fill="#b8002a"/>
<rect x="108.95" y="335.55" width="1.9" height="1.9" fill="#1e4a8c"/>
<rect x="108.95" y="346.35" width="1.9" height="1.9" fill="#1e4a8c"/>
<rect x="108.95" y="368.55" width="1.9" height="1.9" fill="#1e4a8c"/>
<rect x="106.95" y="375.85" width="1.9" height="1.9" fill="#1e4a8c"/>
<rect x="111.25" y="373.95" width="1.9" height="1.9" fill="#1e4a8c"/>
<rect x="111.25" y="377.45" width="1.9" height="1.9" fill="#1e4a8c"/>
<rect x="108.95" y="384.05" width="1.9" height="1.9" fill="#1e4a8c"/>
<line x1="102.77000000000001" y1="418.5" x2="102.77000000000001" y2="421.8" stroke="#000" stroke-width="1.1"/>
<text transform="translate(106.07000000000001,429.5) rotate(-45)" font-size="8.5" text-anchor="end" fill="#111" stroke="#111" stroke-width="0.1">CHD4</text>
<rect x="130.48999999999998" y="367.95000000000005" width="8.3" height="50.549999999999976" fill="#cd8c7f" stroke="#c4806f" stroke-width="0.7"/>
<rect x="145.24" y="371.95000000000005" width="8.199999999999978" height="46.549999999999976" fill="#8d97b8" stroke="#838cb0" stroke-width="0.7"/>
<line x1="134.64" y1="359.2" x2="134.64" y2="374.6" stroke="#222" stroke-width="1.2"/>
<line x1="132.04" y1="359.2" x2="137.23999999999998" y2="359.2" stroke="#222" stroke-width="1.3"/>
<line x1="132.04" y1="374.6" x2="137.23999999999998" y2="374.6" stroke="#222" stroke-width="1.3"/>
<line x1="149.34" y1="363.6" x2="149.34" y2="377.4" stroke="#222" stroke-width="1.2"/>
<line x1="146.74" y1="363.6" x2="151.94" y2="363.6" stroke="#222" stroke-width="1.3"/>
<line x1="146.74" y1="377.4" x2="151.94" y2="377.4" stroke="#222" stroke-width="1.3"/>
<circle cx="134.7" cy="356.8" r="1.0" fill="#b8002a"/>
<circle cx="134.7" cy="361.5" r="1.0" fill="#b8002a"/>
<circle cx="132.4" cy="365.3" r="1.0" fill="#b8002a"/>
<circle cx="137.1" cy="365.3" r="1.0" fill="#b8002a"/>
<circle cx="134.7" cy="368.3" r="1.0" fill="#b8002a"/>
<circle cx="132.6" cy="369" r="1.0" fill="#b8002a"/>
<circle cx="134.7" cy="371.6" r="1.0" fill="#b8002a"/>
<circle cx="134.7" cy="383.7" r="1.0" fill="#b8002a"/>
<rect x="146.25" y="360.55" width="1.9" height="1.9" fill="#1e4a8c"/>
<rect x="150.95000000000002" y="360.55" width="1.9" height="1.9" fill="#1e4a8c"/>
<rect x="148.65" y="364.65000000000003" width="1.9" height="1.9" fill="#1e4a8c"/>
<rect x="148.65" y="368.05" width="1.9" height="1.9" fill="#1e4a8c"/>
<rect x="144.25" y="372.05" width="1.9" height="1.9" fill="#1e4a8c"/>
<rect x="152.95000000000002" y="372.05" width="1.9" height="1.9" fill="#1e4a8c"/>
<rect x="148.65" y="374.45" width="1.9" height="1.9" fill="#1e4a8c"/>
<rect x="148.65" y="383.85" width="1.9" height="1.9" fill="#1e4a8c"/>
<line x1="141.94" y1="418.5" x2="141.94" y2="421.8" stroke="#000" stroke-width="1.1"/>
<text transform="translate(145.24,429.5) rotate(-45)" font-size="8.5" text-anchor="end" fill="#111" stroke="#111" stroke-width="0.1">HDAC1</text>
<rect x="169.66" y="367.95000000000005" width="8.3" height="50.549999999999976" fill="#cd8c7f" stroke="#c4806f" stroke-width="0.7"/>
<rect x="184.41000000000003" y="369.05" width="8.199999999999978" height="49.45000000000001" fill="#8d97b8" stroke="#838cb0" stroke-width="0.7"/>
<line x1="173.81" y1="358.2" x2="173.81" y2="375.7" stroke="#222" stroke-width="1.2"/>
<line x1="171.21" y1="358.2" x2="176.41" y2="358.2" stroke="#222" stroke-width="1.3"/>
<line x1="171.21" y1="375.7" x2="176.41" y2="375.7" stroke="#222" stroke-width="1.3"/>
<line x1="188.51000000000002" y1="362.2" x2="188.51000000000002" y2="375.3" stroke="#222" stroke-width="1.2"/>
<line x1="185.91000000000003" y1="362.2" x2="191.11" y2="362.2" stroke="#222" stroke-width="1.3"/>
<line x1="185.91000000000003" y1="375.3" x2="191.11" y2="375.3" stroke="#222" stroke-width="1.3"/>
<circle cx="171.4" cy="356.4" r="1.0" fill="#b8002a"/>
<circle cx="176.1" cy="356.4" r="1.0" fill="#b8002a"/>
<circle cx="173.7" cy="360.5" r="1.0" fill="#b8002a"/>
<circle cx="173.7" cy="363.5" r="1.0" fill="#b8002a"/>
<circle cx="173.7" cy="366.5" r="1.0" fill="#b8002a"/>
<circle cx="173.7" cy="369.5" r="1.0" fill="#b8002a"/>
<circle cx="173.7" cy="372.5" r="1.0" fill="#b8002a"/>
<circle cx="173.7" cy="379.3" r="1.0" fill="#b8002a"/>
<rect x="185.25" y="359.25" width="1.9" height="1.9" fill="#1e4a8c"/>
<rect x="189.95000000000002" y="359.25" width="1.9" height="1.9" fill="#1e4a8c"/>
<rect x="185.65" y="361.95" width="1.9" height="1.9" fill="#1e4a8c"/>
<rect x="189.95000000000002" y="363.05" width="1.9" height="1.9" fill="#1e4a8c"/>
<rect x="187.75" y="366.05" width="1.9" height="1.9" fill="#1e4a8c"/>
<rect x="187.75" y="370.05" width="1.9" height="1.9" fill="#1e4a8c"/>
<rect x="187.75" y="379.15000000000003" width="1.9" height="1.9" fill="#1e4a8c"/>
<line x1="181.11" y1="418.5" x2="181.11" y2="421.8" stroke="#000" stroke-width="1.1"/>
<text transform="translate(184.41000000000003,429.5) rotate(-45)" font-size="8.5" text-anchor="end" fill="#111" stroke="#111" stroke-width="0.1">HDAC2</text>
<rect x="208.82999999999998" y="367.95000000000005" width="8.3" height="50.549999999999976" fill="#cd8c7f" stroke="#c4806f" stroke-width="0.7"/>
<rect x="223.58" y="371.45000000000005" width="8.199999999999978" height="47.049999999999976" fill="#8d97b8" stroke="#838cb0" stroke-width="0.7"/>
<line x1="212.98" y1="358.6" x2="212.98" y2="375.1" stroke="#222" stroke-width="1.2"/>
<line x1="210.38" y1="358.6" x2="215.57999999999998" y2="358.6" stroke="#222" stroke-width="1.3"/>
<line x1="210.38" y1="375.1" x2="215.57999999999998" y2="375.1" stroke="#222" stroke-width="1.3"/>
<line x1="227.68" y1="361.5" x2="227.68" y2="378.7" stroke="#222" stroke-width="1.2"/>
<line x1="225.08" y1="361.5" x2="230.28" y2="361.5" stroke="#222" stroke-width="1.3"/>
<line x1="225.08" y1="378.7" x2="230.28" y2="378.7" stroke="#222" stroke-width="1.3"/>
<circle cx="210.8" cy="355.9" r="1.0" fill="#b8002a"/>
<circle cx="215.2" cy="356.9" r="1.0" fill="#b8002a"/>
<circle cx="213" cy="359.9" r="1.0" fill="#b8002a"/>
<circle cx="213" cy="364.3" r="1.0" fill="#b8002a"/>
<circle cx="210.1" cy="368.6" r="1.0" fill="#b8002a"/>
<circle cx="215.5" cy="368.6" r="1.0" fill="#b8002a"/>
<circle cx="213" cy="371.1" r="1.0" fill="#b8002a"/>
<circle cx="213" cy="374" r="1.0" fill="#b8002a"/>
<circle cx="213" cy="379.1" r="1.0" fill="#b8002a"/>
<rect x="226.65" y="349.15000000000003" width="1.9" height="1.9" fill="#1e4a8c"/>
<rect x="227.95000000000002" y="366.35" width="1.9" height="1.9" fill="#1e4a8c"/>
<rect x="225.05" y="368.55" width="1.9" height="1.9" fill="#1e4a8c"/>
<rect x="223.05" y="370.35" width="1.9" height="1.9" fill="#1e4a8c"/>
<rect x="231.05" y="370.15000000000003" width="1.9" height="1.9" fill="#1e4a8c"/>
<rect x="226.95000000000002" y="372.45" width="1.9" height="1.9" fill="#1e4a8c"/>
<rect x="226.95000000000002" y="378.45" width="1.9" height="1.9" fill="#1e4a8c"/>
<line x1="220.28" y1="418.5" x2="220.28" y2="421.8" stroke="#000" stroke-width="1.1"/>
<text transform="translate(223.58,429.5) rotate(-45)" font-size="8.5" text-anchor="end" fill="#111" stroke="#111" stroke-width="0.1">MBD2</text>
<rect x="248.00000000000003" y="367.95000000000005" width="8.3" height="50.549999999999976" fill="#cd8c7f" stroke="#c4806f" stroke-width="0.7"/>
<rect x="262.75000000000006" y="372.65000000000003" width="8.199999999999978" height="45.84999999999999" fill="#8d97b8" stroke="#838cb0" stroke-width="0.7"/>
<line x1="252.15000000000003" y1="351.2" x2="252.15000000000003" y2="382.8" stroke="#222" stroke-width="1.2"/>
<line x1="249.55000000000004" y1="351.2" x2="254.75000000000003" y2="351.2" stroke="#222" stroke-width="1.3"/>
<line x1="249.55000000000004" y1="382.8" x2="254.75000000000003" y2="382.8" stroke="#222" stroke-width="1.3"/>
<line x1="266.85" y1="354.5" x2="266.85" y2="388.2" stroke="#222" stroke-width="1.2"/>
<line x1="264.25" y1="354.5" x2="269.45000000000005" y2="354.5" stroke="#222" stroke-width="1.3"/>
<line x1="264.25" y1="388.2" x2="269.45000000000005" y2="388.2" stroke="#222" stroke-width="1.3"/>
<circle cx="252.2" cy="338" r="1.0" fill="#b8002a"/>
<circle cx="252.2" cy="357.6" r="1.0" fill="#b8002a"/>
<circle cx="252.2" cy="360.6" r="1.0" fill="#b8002a"/>
<circle cx="249.8" cy="364.6" r="1.0" fill="#b8002a"/>
<circle cx="254.5" cy="363.5" r="1.0" fill="#b8002a"/>
<circle cx="252.2" cy="371.1" r="1.0" fill="#b8002a"/>
<circle cx="252.2" cy="385.1" r="1.0" fill="#b8002a"/>
<circle cx="252.2" cy="393.1" r="1.0" fill="#b8002a"/>
<rect x="265.85" y="336.95" width="1.9" height="1.9" fill="#1e4a8c"/>
<rect x="263.55" y="361.05" width="1.9" height="1.9" fill="#1e4a8c"/>
<rect x="268.15000000000003" y="360.05" width="1.9" height="1.9" fill="#1e4a8c"/>
<rect x="265.85" y="368.05" width="1.9" height="1.9" fill="#1e4a8c"/>
<rect x="263.55" y="373.35" width="1.9" height="1.9" fill="#1e4a8c"/>
<rect x="268.15000000000003" y="374.45" width="1.9" height="1.9" fill="#1e4a8c"/>
<rect x="265.85" y="383.15000000000003" width="1.9" height="1.9" fill="#1e4a8c"/>
<rect x="263.55" y="390.25" width="1.9" height="1.9" fill="#1e4a8c"/>
<rect x="268.15000000000003" y="389.05" width="1.9" height="1.9" fill="#1e4a8c"/>
<line x1="259.45000000000005" y1="418.5" x2="259.45000000000005" y2="421.8" stroke="#000" stroke-width="1.1"/>
<text transform="translate(262.75000000000006,429.5) rotate(-45)" font-size="8.5" text-anchor="end" fill="#111" stroke="#111" stroke-width="0.1">MBD3</text>
<rect x="287.17" y="367.85" width="8.3" height="50.65" fill="#cd8c7f" stroke="#c4806f" stroke-width="0.7"/>
<rect x="301.92" y="367.35" width="8.199999999999978" height="51.15" fill="#8d97b8" stroke="#838cb0" stroke-width="0.7"/>
<line x1="291.32" y1="352.4" x2="291.32" y2="381.4" stroke="#222" stroke-width="1.2"/>
<line x1="288.71999999999997" y1="352.4" x2="293.92" y2="352.4" stroke="#222" stroke-width="1.3"/>
<line x1="288.71999999999997" y1="381.4" x2="293.92" y2="381.4" stroke="#222" stroke-width="1.3"/>
<line x1="306.02" y1="353.9" x2="306.02" y2="378.4" stroke="#222" stroke-width="1.2"/>
<line x1="303.41999999999996" y1="353.9" x2="308.62" y2="353.9" stroke="#222" stroke-width="1.3"/>
<line x1="303.41999999999996" y1="378.4" x2="308.62" y2="378.4" stroke="#222" stroke-width="1.3"/>
<circle cx="291.3" cy="345.6" r="1.0" fill="#b8002a"/>
<circle cx="291.3" cy="352.7" r="1.0" fill="#b8002a"/>
<circle cx="291.3" cy="355" r="1.0" fill="#b8002a"/>
<circle cx="291.3" cy="357.2" r="1.0" fill="#b8002a"/>
<circle cx="291.3" cy="370.5" r="1.0" fill="#b8002a"/>
<circle cx="291.3" cy="375.4" r="1.0" fill="#b8002a"/>
<circle cx="291.3" cy="379.9" r="1.0" fill="#b8002a"/>
<circle cx="289.5" cy="384.1" r="1.0" fill="#b8002a"/>
<circle cx="293.6" cy="382.9" r="1.0" fill="#b8002a"/>
<rect x="305.15000000000003" y="339.65000000000003" width="1.9" height="1.9" fill="#1e4a8c"/>
<rect x="305.15000000000003" y="355.05" width="1.9" height="1.9" fill="#1e4a8c"/>
<rect x="305.15000000000003" y="360.85" width="1.9" height="1.9" fill="#1e4a8c"/>
<rect x="305.15000000000003" y="364.55" width="1.9" height="1.9" fill="#1e4a8c"/>
<rect x="301.25" y="370.65000000000003" width="1.9" height="1.9" fill="#1e4a8c"/>
<rect x="308.75" y="372.15000000000003" width="1.9" height="1.9" fill="#1e4a8c"/>
<rect x="305.15000000000003" y="369.05" width="1.9" height="1.9" fill="#1e4a8c"/>
<rect x="305.15000000000003" y="378.15000000000003" width="1.9" height="1.9" fill="#1e4a8c"/>
<line x1="298.62" y1="418.5" x2="298.62" y2="421.8" stroke="#000" stroke-width="1.1"/>
<text transform="translate(301.92,429.5) rotate(-45)" font-size="8.5" text-anchor="end" fill="#111" stroke="#111" stroke-width="0.1">MTA1</text>
<rect x="326.34000000000003" y="367.85" width="8.3" height="50.65" fill="#cd8c7f" stroke="#c4806f" stroke-width="0.7"/>
<rect x="341.09000000000003" y="369.95000000000005" width="8.199999999999978" height="48.549999999999976" fill="#8d97b8" stroke="#838cb0" stroke-width="0.7"/>
<line x1="330.49" y1="363.3" x2="330.49" y2="370.5" stroke="#222" stroke-width="1.2"/>
<line x1="327.89" y1="363.3" x2="333.09000000000003" y2="363.3" stroke="#222" stroke-width="1.3"/>
<line x1="327.89" y1="370.5" x2="333.09000000000003" y2="370.5" stroke="#222" stroke-width="1.3"/>
<line x1="345.19" y1="361.8" x2="345.19" y2="375.4" stroke="#222" stroke-width="1.2"/>
<line x1="342.59" y1="361.8" x2="347.79" y2="361.8" stroke="#222" stroke-width="1.3"/>
<line x1="342.59" y1="375.4" x2="347.79" y2="375.4" stroke="#222" stroke-width="1.3"/>
<circle cx="330.6" cy="358.3" r="1.0" fill="#b8002a"/>
<circle cx="326.8" cy="366.7" r="1.0" fill="#b8002a"/>
<circle cx="328.8" cy="366" r="1.0" fill="#b8002a"/>
<circle cx="332.6" cy="365.6" r="1.0" fill="#b8002a"/>
<circle cx="334.4" cy="365.5" r="1.0" fill="#b8002a"/>
<circle cx="329.1" cy="370.8" r="1.0" fill="#b8002a"/>
<circle cx="332.1" cy="370" r="1.0" fill="#b8002a"/>
<rect x="344.45" y="357.35" width="1.9" height="1.9" fill="#1e4a8c"/>
<rect x="342.45" y="363.05" width="1.9" height="1.9" fill="#1e4a8c"/>
<rect x="346.25" y="361.25" width="1.9" height="1.9" fill="#1e4a8c"/>
<rect x="342.45" y="366.85" width="1.9" height="1.9" fill="#1e4a8c"/>
<rect x="346.25" y="365.75" width="1.9" height="1.9" fill="#1e4a8c"/>
<rect x="342.45" y="372.85" width="1.9" height="1.9" fill="#1e4a8c"/>
<rect x="346.25" y="372.15000000000003" width="1.9" height="1.9" fill="#1e4a8c"/>
<rect x="342.45" y="377.75" width="1.9" height="1.9" fill="#1e4a8c"/>
<rect x="346.25" y="375.95" width="1.9" height="1.9" fill="#1e4a8c"/>
<line x1="337.79" y1="418.5" x2="337.79" y2="421.8" stroke="#000" stroke-width="1.1"/>
<text transform="translate(341.09000000000003,429.5) rotate(-45)" font-size="8.5" text-anchor="end" fill="#111" stroke="#111" stroke-width="0.1">MTA2</text>
<rect x="365.51000000000005" y="367.85" width="8.3" height="50.65" fill="#cd8c7f" stroke="#c4806f" stroke-width="0.7"/>
<rect x="380.26000000000005" y="362.55" width="8.199999999999978" height="55.95000000000001" fill="#8d97b8" stroke="#838cb0" stroke-width="0.7"/>
<line x1="369.66" y1="355.4" x2="369.66" y2="378.7" stroke="#222" stroke-width="1.2"/>
<line x1="367.06" y1="355.4" x2="372.26000000000005" y2="355.4" stroke="#222" stroke-width="1.3"/>
<line x1="367.06" y1="378.7" x2="372.26000000000005" y2="378.7" stroke="#222" stroke-width="1.3"/>
<line x1="384.36" y1="348.1" x2="384.36" y2="374.6" stroke="#222" stroke-width="1.2"/>
<line x1="381.76" y1="348.1" x2="386.96000000000004" y2="348.1" stroke="#222" stroke-width="1.3"/>
<line x1="381.76" y1="374.6" x2="386.96000000000004" y2="374.6" stroke="#222" stroke-width="1.3"/>
<circle cx="369.6" cy="348.1" r="1.0" fill="#b8002a"/>
<circle cx="369.6" cy="354.2" r="1.0" fill="#b8002a"/>
<circle cx="367.2" cy="363" r="1.0" fill="#b8002a"/>
<circle cx="372.2" cy="363" r="1.0" fill="#b8002a"/>
<circle cx="369.6" cy="367.8" r="1.0" fill="#b8002a"/>
<circle cx="369.6" cy="374.6" r="1.0" fill="#b8002a"/>
<circle cx="369.6" cy="379.1" r="1.0" fill="#b8002a"/>
<circle cx="369.6" cy="384.7" r="1.0" fill="#b8002a"/>
<rect x="379.55" y="346.85" width="1.9" height="1.9" fill="#1e4a8c"/>
<rect x="383.75" y="345.65000000000003" width="1.9" height="1.9" fill="#1e4a8c"/>
<rect x="387.35" y="344.95" width="1.9" height="1.9" fill="#1e4a8c"/>
<rect x="383.75" y="355.05" width="1.9" height="1.9" fill="#1e4a8c"/>
<rect x="379.55" y="363.55" width="1.9" height="1.9" fill="#1e4a8c"/>
<rect x="383.75" y="365.35" width="1.9" height="1.9" fill="#1e4a8c"/>
<rect x="383.75" y="369.15000000000003" width="1.9" height="1.9" fill="#1e4a8c"/>
<rect x="383.75" y="375.15000000000003" width="1.9" height="1.9" fill="#1e4a8c"/>
<rect x="383.75" y="378.95" width="1.9" height="1.9" fill="#1e4a8c"/>
<line x1="376.96000000000004" y1="418.5" x2="376.96000000000004" y2="421.8" stroke="#000" stroke-width="1.1"/>
<text transform="translate(380.26000000000005,429.5) rotate(-45)" font-size="8.5" text-anchor="end" fill="#111" stroke="#111" stroke-width="0.1">MTA3</text>
<rect x="404.68000000000006" y="367.95000000000005" width="8.3" height="50.549999999999976" fill="#cd8c7f" stroke="#c4806f" stroke-width="0.7"/>
<rect x="419.43000000000006" y="371.75" width="8.199999999999978" height="46.75000000000002" fill="#8d97b8" stroke="#838cb0" stroke-width="0.7"/>
<line x1="408.83000000000004" y1="358.2" x2="408.83000000000004" y2="376.1" stroke="#222" stroke-width="1.2"/>
<line x1="406.23" y1="358.2" x2="411.43000000000006" y2="358.2" stroke="#222" stroke-width="1.3"/>
<line x1="406.23" y1="376.1" x2="411.43000000000006" y2="376.1" stroke="#222" stroke-width="1.3"/>
<line x1="423.53000000000003" y1="362.2" x2="423.53000000000003" y2="378.4" stroke="#222" stroke-width="1.2"/>
<line x1="420.93" y1="362.2" x2="426.13000000000005" y2="362.2" stroke="#222" stroke-width="1.3"/>
<line x1="420.93" y1="378.4" x2="426.13000000000005" y2="378.4" stroke="#222" stroke-width="1.3"/>
<circle cx="408.8" cy="349.8" r="1.0" fill="#b8002a"/>
<circle cx="406.3" cy="364" r="1.0" fill="#b8002a"/>
<circle cx="411.1" cy="364.2" r="1.0" fill="#b8002a"/>
<circle cx="406.3" cy="368.5" r="1.0" fill="#b8002a"/>
<circle cx="411.1" cy="368.5" r="1.0" fill="#b8002a"/>
<circle cx="408.8" cy="373" r="1.0" fill="#b8002a"/>
<circle cx="408.8" cy="379.7" r="1.0" fill="#b8002a"/>
<circle cx="407.2" cy="375.6" r="1.0" fill="#b8002a"/>
<rect x="422.65000000000003" y="352.25" width="1.9" height="1.9" fill="#1e4a8c"/>
<rect x="422.65000000000003" y="361.95" width="1.9" height="1.9" fill="#1e4a8c"/>
<rect x="418.85" y="370.65000000000003" width="1.9" height="1.9" fill="#1e4a8c"/>
<rect x="426.35" y="371.35" width="1.9" height="1.9" fill="#1e4a8c"/>
<rect x="422.65000000000003" y="372.05" width="1.9" height="1.9" fill="#1e4a8c"/>
<rect x="420.65000000000003" y="374.75" width="1.9" height="1.9" fill="#1e4a8c"/>
<rect x="424.65000000000003" y="374.35" width="1.9" height="1.9" fill="#1e4a8c"/>
<rect x="422.65000000000003" y="378.75" width="1.9" height="1.9" fill="#1e4a8c"/>
<line x1="416.13000000000005" y1="418.5" x2="416.13000000000005" y2="421.8" stroke="#000" stroke-width="1.1"/>
<text transform="translate(419.43000000000006,429.5) rotate(-45)" font-size="8.5" text-anchor="end" fill="#111" stroke="#111" stroke-width="0.1">GATAD2A</text>
<rect x="443.8500000000001" y="367.95000000000005" width="8.3" height="50.549999999999976" fill="#cd8c7f" stroke="#c4806f" stroke-width="0.7"/>
<rect x="458.6000000000001" y="370.65000000000003" width="8.199999999999978" height="47.84999999999999" fill="#8d97b8" stroke="#838cb0" stroke-width="0.7"/>
<line x1="448.00000000000006" y1="360.9" x2="448.00000000000006" y2="373.4" stroke="#222" stroke-width="1.2"/>
<line x1="445.40000000000003" y1="360.9" x2="450.6000000000001" y2="360.9" stroke="#222" stroke-width="1.3"/>
<line x1="445.40000000000003" y1="373.4" x2="450.6000000000001" y2="373.4" stroke="#222" stroke-width="1.3"/>
<line x1="462.70000000000005" y1="362.2" x2="462.70000000000005" y2="375.7" stroke="#222" stroke-width="1.2"/>
<line x1="460.1" y1="362.2" x2="465.30000000000007" y2="362.2" stroke="#222" stroke-width="1.3"/>
<line x1="460.1" y1="375.7" x2="465.30000000000007" y2="375.7" stroke="#222" stroke-width="1.3"/>
<circle cx="448.1" cy="356.6" r="1.0" fill="#b8002a"/>
<circle cx="444" cy="364.2" r="1.0" fill="#b8002a"/>
<circle cx="448.1" cy="364.9" r="1.0" fill="#b8002a"/>
<circle cx="451.8" cy="364.2" r="1.0" fill="#b8002a"/>
<circle cx="446" cy="368.3" r="1.0" fill="#b8002a"/>
<circle cx="450.6" cy="369" r="1.0" fill="#b8002a"/>
<circle cx="448.1" cy="372.7" r="1.0" fill="#b8002a"/>
<circle cx="448.1" cy="376.6" r="1.0" fill="#b8002a"/>
<rect x="461.95" y="355.65000000000003" width="1.9" height="1.9" fill="#1e4a8c"/>
<rect x="461.95" y="359.55" width="1.9" height="1.9" fill="#1e4a8c"/>
<rect x="460.05" y="365.95" width="1.9" height="1.9" fill="#1e4a8c"/>
<rect x="463.95" y="365.95" width="1.9" height="1.9" fill="#1e4a8c"/>
<rect x="457.85" y="371.65000000000003" width="1.9" height="1.9" fill="#1e4a8c"/>
<rect x="465.95" y="371.35" width="1.9" height="1.9" fill="#1e4a8c"/>
<rect x="461.95" y="372.55" width="1.9" height="1.9" fill="#1e4a8c"/>
<rect x="457.85" y="375.65000000000003" width="1.9" height="1.9" fill="#1e4a8c"/>
<rect x="463.95" y="375.15000000000003" width="1.9" height="1.9" fill="#1e4a8c"/>
<line x1="455.30000000000007" y1="418.5" x2="455.30000000000007" y2="421.8" stroke="#000" stroke-width="1.1"/>
<text transform="translate(458.6000000000001,429.5) rotate(-45)" font-size="8.5" text-anchor="end" fill="#111" stroke="#111" stroke-width="0.1">GATAD2B</text>
<rect x="483.02000000000004" y="367.65000000000003" width="8.3" height="50.84999999999999" fill="#cd8c7f" stroke="#c4806f" stroke-width="0.7"/>
<rect x="497.77000000000004" y="368.65000000000003" width="8.199999999999978" height="49.84999999999999" fill="#8d97b8" stroke="#838cb0" stroke-width="0.7"/>
<line x1="487.17" y1="359.0" x2="487.17" y2="374.4" stroke="#222" stroke-width="1.2"/>
<line x1="484.57" y1="359.0" x2="489.77000000000004" y2="359.0" stroke="#222" stroke-width="1.3"/>
<line x1="484.57" y1="374.4" x2="489.77000000000004" y2="374.4" stroke="#222" stroke-width="1.3"/>
<line x1="501.87" y1="360.8" x2="501.87" y2="374.4" stroke="#222" stroke-width="1.2"/>
<line x1="499.27" y1="360.8" x2="504.47" y2="360.8" stroke="#222" stroke-width="1.3"/>
<line x1="499.27" y1="374.4" x2="504.47" y2="374.4" stroke="#222" stroke-width="1.3"/>
<circle cx="484.8" cy="357.8" r="1.0" fill="#b8002a"/>
<circle cx="489" cy="358.4" r="1.0" fill="#b8002a"/>
<circle cx="484.8" cy="360.8" r="1.0" fill="#b8002a"/>
<circle cx="484.8" cy="363.8" r="1.0" fill="#b8002a"/>
<circle cx="489" cy="363.5" r="1.0" fill="#b8002a"/>
<circle cx="484.8" cy="371.5" r="1.0" fill="#b8002a"/>
<circle cx="489" cy="370.6" r="1.0" fill="#b8002a"/>
<circle cx="487.2" cy="376.2" r="1.0" fill="#b8002a"/>
<circle cx="487.2" cy="378.6" r="1.0" fill="#b8002a"/>
<rect x="500.85" y="354.75" width="1.9" height="1.9" fill="#1e4a8c"/>
<rect x="504.65000000000003" y="361.05" width="1.9" height="1.9" fill="#1e4a8c"/>
<rect x="496.95" y="364.55" width="1.9" height="1.9" fill="#1e4a8c"/>
<rect x="504.65000000000003" y="364.55" width="1.9" height="1.9" fill="#1e4a8c"/>
<rect x="500.85" y="362.85" width="1.9" height="1.9" fill="#1e4a8c"/>
<rect x="500.85" y="369.35" width="1.9" height="1.9" fill="#1e4a8c"/>
<rect x="499.35" y="373.45" width="1.9" height="1.9" fill="#1e4a8c"/>
<rect x="502.85" y="373.75" width="1.9" height="1.9" fill="#1e4a8c"/>
<rect x="500.85" y="376.85" width="1.9" height="1.9" fill="#1e4a8c"/>
<line x1="494.47" y1="418.5" x2="494.47" y2="421.8" stroke="#000" stroke-width="1.1"/>
<text transform="translate(497.77000000000004,429.5) rotate(-45)" font-size="8.5" text-anchor="end" fill="#111" stroke="#111" stroke-width="0.1">RBBP7</text>
<line x1="43.2" y1="418.5" x2="512.4" y2="418.5" stroke="#000" stroke-width="1.3"/>
<circle cx="434.0" cy="319.2" r="2.6" fill="#b8002a"/>
<text x="440.2" y="322.2" font-size="8.2" font-weight="normal" text-anchor="start" fill="#222"  stroke="#222" stroke-width="0.1">A-Cell</text>
<rect x="472.5" y="316.9" width="5.2" height="5.2" fill="#1e4a8c" />
<text x="481.5" y="322.2" font-size="8.2" font-weight="normal" text-anchor="start" fill="#222"  stroke="#222" stroke-width="0.1">F-Cell</text>
<rect x="0" y="0" width="520" height="1.1" fill="#000" />
<rect x="0" y="0" width="1.3" height="463" fill="#000" />
<rect x="518.7" y="0" width="1.3" height="463" fill="#000" />
<rect x="0" y="461.6" width="520" height="1.4" fill="#000" />
</svg>
</body></html>
